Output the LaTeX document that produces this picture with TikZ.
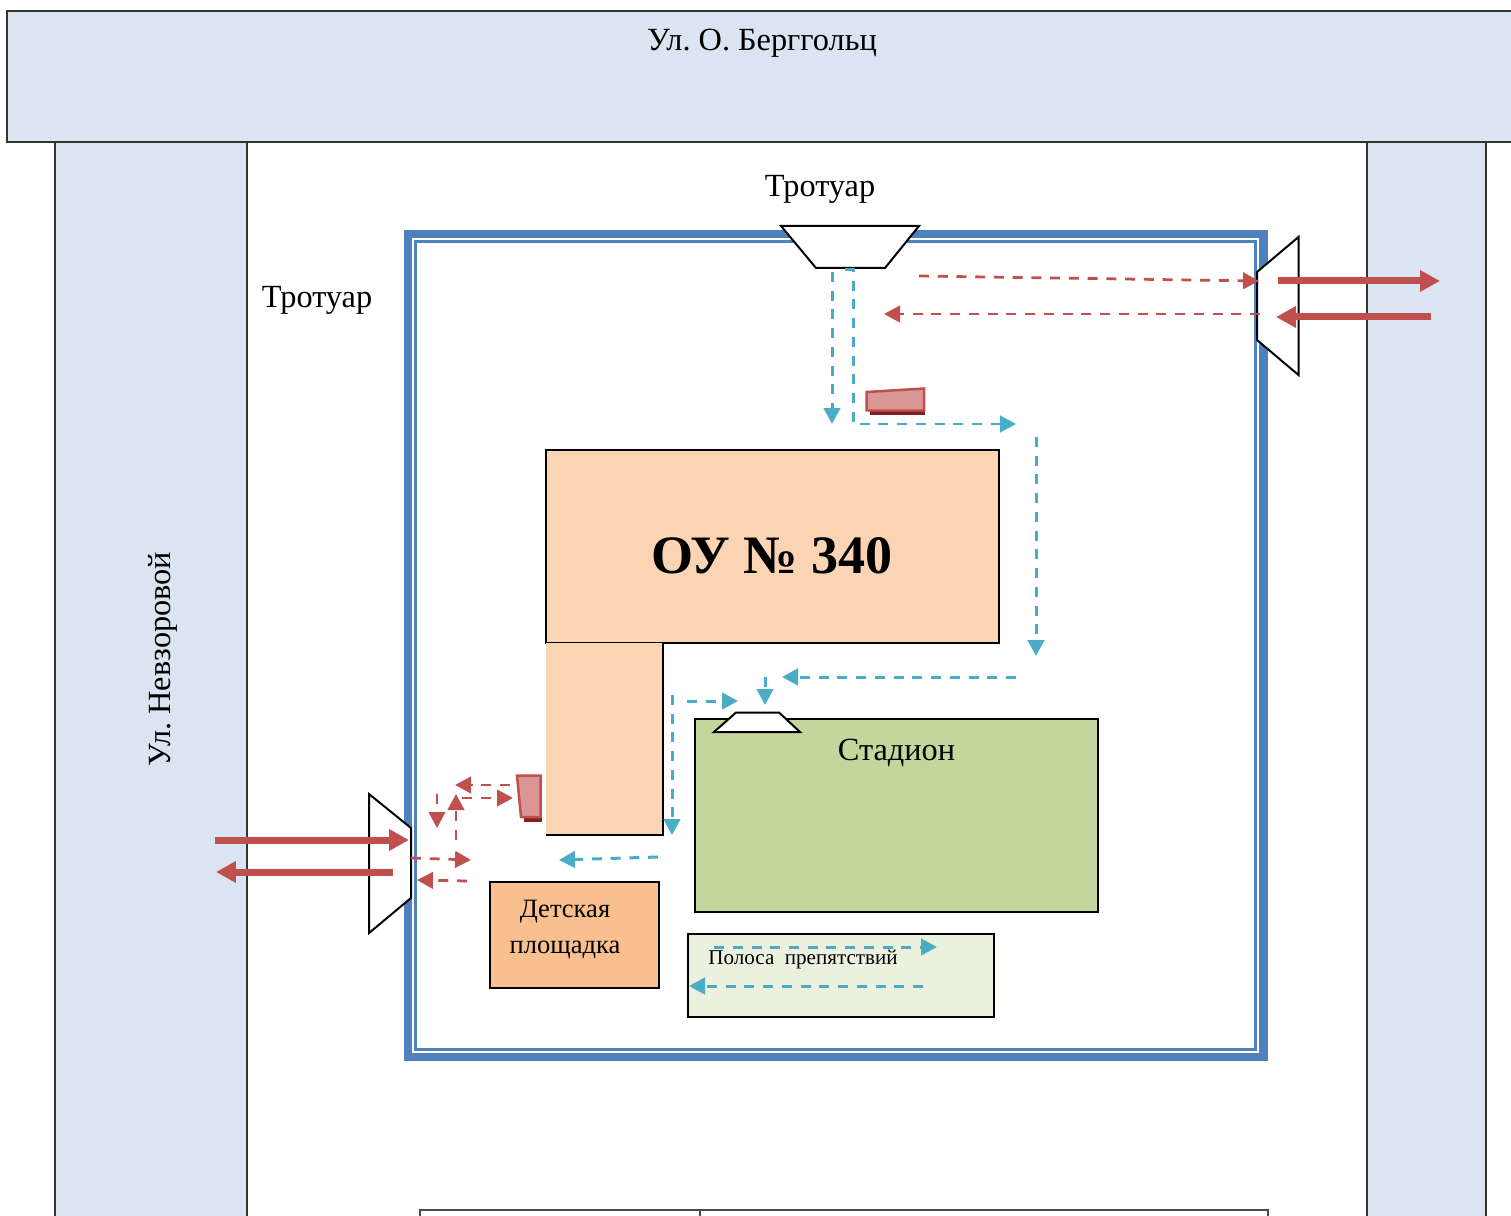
\documentclass[tikz,border=0pt]{standalone}
\usepackage{fontspec}
\setmainfont{Liberation Serif}
\usetikzlibrary{arrows.meta, positioning}

\definecolor{streetblue}{HTML}{DBE5F1}
\definecolor{fenceblue}{HTML}{4F81BD}
\definecolor{routered}{HTML}{C0504D}
\definecolor{routeteal}{HTML}{4BACC6}
\definecolor{schoolfill}{HTML}{FBD4B4}
\definecolor{fieldfill}{HTML}{C3D69B}
\definecolor{playfill}{HTML}{FABF8F}
\definecolor{trackfill}{HTML}{EBF1DE}
\definecolor{carfill}{HTML}{D99694}
\definecolor{carshade}{HTML}{7F2120}

\tikzset{
    street/.style={draw=black!80, line width=0.04cm, fill=streetblue},
    plot/.style={draw=black, line width=0.035cm, inner sep=0pt, outer sep=0pt},
    gate/.style={draw=black, line width=0.04cm, fill=white, line join=miter},
    car/.style={draw=routered, line width=0.05cm, fill=carfill},
    label/.style={inner sep=0pt, font=\frenchspacing\fontsize{18.4}{22}\selectfont},
    walk/.style={routeteal, line width=0.06cm, dash pattern=on 0.2cm off 0.175cm,
        -{Triangle[length=0.32cm, width=0.33cm]}},
    walkred/.style={walk, routered, line width=0.055cm},
    drive/.style={routered, line width=0.14cm, -{Triangle[length=0.4cm, width=0.41cm]}}
}

\begin{document}
\begin{tikzpicture}[x=0.02cm, y=-0.02cm]
    \useasboundingbox (0,0) rectangle (1511,1216);
    \clip (0,0) rectangle (1511,1216);

    % streets
    \draw[street] (55,130) rectangle (247,1225);
    \draw[street] (1367,130) rectangle (1486,1225);
    \draw[street] (7,11) rectangle (1525,142);
    \node (bergg) [label] at (762,43) {Ул. О. Берггольц};
    \node (nevz) [label, rotate=90] at (163,659) {Ул. Невзоровой};
    \node (walktop) [label] at (820,189) {Тротуар};
    \node (walkleft) [label] at (317,300) {Тротуар};

    % fence
    \draw[fenceblue, line width=0.17cm] (408,234) rectangle (1263.5,1057);
    \draw[fenceblue, line width=0.06cm] (415.5,241.5) rectangle (1255.5,1049.5);

    % school and grounds
    \node (main) [plot, fill=schoolfill, minimum width=9.06cm, minimum height=3.86cm] at (772.5,546.5) {};
    \node (maintext) [inner sep=0pt, font=\fontsize{30.8}{34}\selectfont\bfseries] at (772,556) {ОУ № 340};
    \node (wing) [inner sep=0pt, outer sep=0pt, fill=schoolfill, minimum width=2.34cm,
        minimum height=3.84cm, below right=0pt and 0pt of main.south west] {};
    \draw[plot] (wing.north east) -- (wing.south east) -- (wing.south west);
    \node (field) [plot, fill=fieldfill, minimum width=8.06cm, minimum height=3.86cm] at (896.5,815.5) {};
    \node (fieldtext) [label, below=11pt of field.north] {Стадион};
    \node (play) [plot, fill=playfill, minimum width=3.38cm, minimum height=2.12cm] at (574.5,935) {};
    \node (playtext) [label, align=center, font=\fontsize{15.1}{20.5}\selectfont] at (565,930) {Детская\\площадка};
    \node (track) [plot, fill=trackfill, minimum width=6.12cm, minimum height=1.66cm] at (841,975.5) {};
    \node (tracktext) [label, font=\fontsize{12}{14}\selectfont] at (803,960) {Полоса\ \ препятствий};

    % gates
    \draw[gate] (781,226) -- (919,226) -- (885,268) -- (816,268) -- cycle;
    \draw[gate] (1257,272) -- (1298.5,237) -- (1298.5,375) -- (1257,340) -- cycle;
    \draw[gate] (369,794) -- (411,828) -- (411,898) -- (369,933) -- cycle;
    \draw[gate] (714,732) -- (736,712.5) -- (779,712.5) -- (800,732) -- cycle;

    % parked cars
    \fill[carshade] (870,405) rectangle (925,415);
    \draw[car] (866.5,392) -- (924,388.5) -- (924,410.5) -- (866.5,410.5) -- cycle;
    \fill[carshade] (524,810) rectangle (541.5,822);
    \draw[car] (517,775.5) -- (540.5,775.5) -- (540.5,817) -- (521,817) -- cycle;

    % routes on foot
    \draw[walk] (832,272) -- (832,424);
    \draw[walk] (845,270) -- (853,270) -- (853,424) -- (1016,424);
    \draw[walk] (1036,437) -- (1036,656);
    \draw[walk] (1016,677) -- (782,677);
    \draw[walk] (765,677) -- (765,705);
    \draw[walk] (672,695) -- (672,835);
    \draw[walk] (687,701) -- (738,701);
    \draw[walk] (658,857) -- (559,860);
    \draw[walk] (714,947) -- (937,947);
    \draw[walk] (923,986) -- (689,986);

    \draw[walkred] (919,276) -- (1259,281);
    \draw[walkred] (1260,314) -- (884,314);
    \draw[walkred] (411,858) -- (471,860);
    \draw[walkred] (467,881) -- (417,880);
    \draw[walkred] (456,840) -- (456,794);
    \draw[walkred] (462,798) -- (513,798);
    \draw[walkred] (510,785) -- (455,785);
    \draw[walkred] (437,794) -- (437,828);

    % routes by car
    \draw[drive] (1278,281) -- (1440,281);
    \draw[drive] (1431,317) -- (1276,317);
    \draw[drive] (215,840) -- (409,840);
    \draw[drive] (393,872) -- (216,872);

    % table at the foot
    \draw[black!70, line width=0.03cm] (420,1225) -- (420,1210) -- (1268,1210) -- (1268,1225);
    \draw[black!70, line width=0.03cm] (700,1210) -- (700,1225);
\end{tikzpicture}
\end{document}
